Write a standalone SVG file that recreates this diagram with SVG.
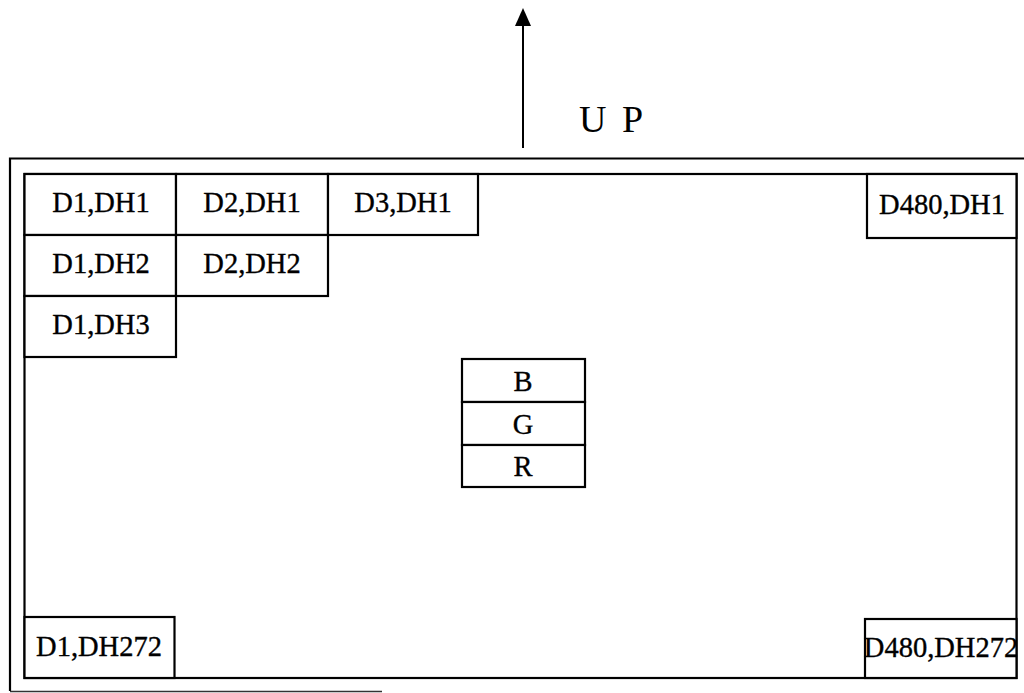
<svg xmlns="http://www.w3.org/2000/svg" width="1024" height="693" viewBox="0 0 1024 693">
<style>
.frame{fill:none;stroke:#000;stroke-width:2.2}
.cell{fill:#fff;stroke:#000;stroke-width:2.2}
.lbl{font-family:"Liberation Serif","Times New Roman",serif;font-size:28.5px;fill:#000;stroke:#000;stroke-width:0.35;text-anchor:middle}
.up{font-family:"Liberation Serif","Times New Roman",serif;font-size:38px;fill:#000}
</style>
<g id="outer-frame">
<path class="frame" d="M10,691 L10,158.5 L1024,158.5"/>
<line x1="10" y1="691.5" x2="382" y2="691.5" stroke="#333" stroke-width="1.5"/>
</g>
<g id="inner-frame">
<rect class="frame" x="24.5" y="174" width="992" height="504"/>
</g>
<g id="connectors">
<line x1="523" y1="148" x2="523" y2="26" stroke="#000" stroke-width="2"/>
<path d="M523,8 L531,26 L515,26 Z" fill="#000"/>
</g>
<g id="up-label">
<text class="up" x="579" y="131.5" letter-spacing="3">U P</text>
</g>
<g id="d1dh1"><rect class="cell" x="24.5" y="174" width="151.5" height="61"/><text class="lbl" x="101" y="212">D1,DH1</text></g>
<g id="d2dh1"><rect class="cell" x="176" y="174" width="152" height="61"/><text class="lbl" x="252" y="212">D2,DH1</text></g>
<g id="d3dh1"><rect class="cell" x="328" y="174" width="150" height="61"/><text class="lbl" x="403" y="212">D3,DH1</text></g>
<g id="d1dh2"><rect class="cell" x="24.5" y="235" width="151.5" height="61"/><text class="lbl" x="101" y="273">D1,DH2</text></g>
<g id="d2dh2"><rect class="cell" x="176" y="235" width="152" height="61"/><text class="lbl" x="252" y="273">D2,DH2</text></g>
<g id="d1dh3"><rect class="cell" x="24.5" y="296" width="151.5" height="61"/><text class="lbl" x="101" y="334">D1,DH3</text></g>
<g id="d480dh1"><rect class="cell" x="867" y="174" width="149.5" height="64"/><text class="lbl" x="942" y="214">D480,DH1</text></g>
<g id="d1dh272"><rect class="cell" x="24.5" y="617" width="150" height="61"/><text class="lbl" x="99" y="656">D1,DH272</text></g>
<g id="d480dh272"><rect class="cell" x="865" y="619" width="151.5" height="59"/><text class="lbl" x="941" y="657" font-size="28">D480,DH272</text></g>
<g id="b"><rect class="cell" x="462" y="359" width="123" height="43"/><text class="lbl" x="523" y="391" font-size="26">B</text></g>
<g id="g"><rect class="cell" x="462" y="402" width="123" height="43"/><text class="lbl" x="523" y="434" font-size="26">G</text></g>
<g id="r"><rect class="cell" x="462" y="445" width="123" height="42"/><text class="lbl" x="523" y="476" font-size="26">R</text></g>
</svg>
